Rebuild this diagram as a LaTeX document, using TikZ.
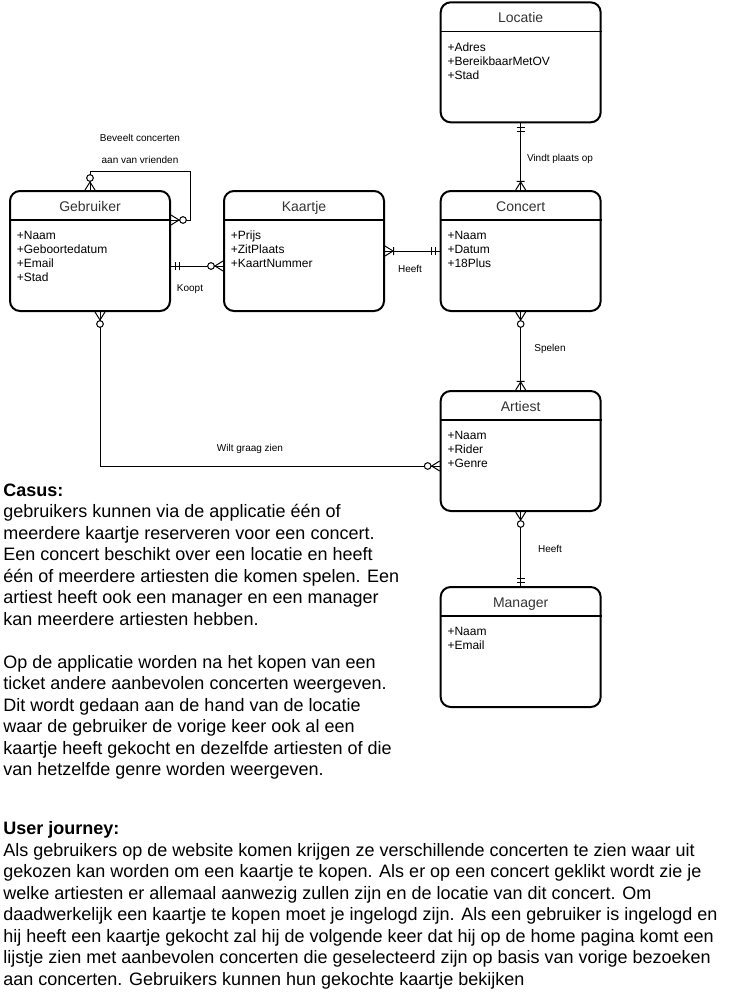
\documentclass[tikz,border=0pt]{standalone}
\usepackage{fontspec}
\setmainfont{Liberation Sans}
\usetikzlibrary{positioning}

% crow's foot ends
\pgfdeclarearrow{
  name = ZeroMany,
  setup code = {
    \pgfarrowssettipend{0pt}
    \pgfarrowssetlineend{0pt}
    \pgfarrowssetbackend{-12pt}
    \pgfarrowssetvisualbackend{-12pt}
    \pgfarrowshullpoint{0pt}{3.75pt}
    \pgfarrowshullpoint{0pt}{-3.75pt}
    \pgfarrowshullpoint{-12pt}{0pt}
  },
  drawing code = {
    \pgfpathmoveto{\pgfpoint{0pt}{3.75pt}}
    \pgfpathlineto{\pgfpoint{-6pt}{0pt}}
    \pgfpathlineto{\pgfpoint{0pt}{-3.75pt}}
    \pgfusepathqstroke
    \pgfsetfillcolor{white}
    \pgfpathcircle{\pgfpoint{-9pt}{0pt}}{2.5pt}
    \pgfusepathqfillstroke
  }
}
\pgfdeclarearrow{
  name = OneMany,
  setup code = {
    \pgfarrowssettipend{0pt}
    \pgfarrowssetlineend{0pt}
    \pgfarrowssetbackend{-7pt}
    \pgfarrowssetvisualbackend{-7pt}
    \pgfarrowshullpoint{0pt}{3.75pt}
    \pgfarrowshullpoint{0pt}{-3.75pt}
    \pgfarrowshullpoint{-7pt}{0pt}
  },
  drawing code = {
    \pgfpathmoveto{\pgfpoint{0pt}{3.75pt}}
    \pgfpathlineto{\pgfpoint{-6pt}{0pt}}
    \pgfpathlineto{\pgfpoint{0pt}{-3.75pt}}
    \pgfpathmoveto{\pgfpoint{-6.5pt}{3pt}}
    \pgfpathlineto{\pgfpoint{-6.5pt}{-3pt}}
    \pgfusepathqstroke
  }
}
\pgfdeclarearrow{
  name = MandOne,
  setup code = {
    \pgfarrowssettipend{0pt}
    \pgfarrowssetlineend{0pt}
    \pgfarrowssetbackend{-7pt}
    \pgfarrowssetvisualbackend{-7pt}
    \pgfarrowshullpoint{0pt}{3pt}
    \pgfarrowshullpoint{0pt}{-3pt}
    \pgfarrowshullpoint{-7pt}{0pt}
  },
  drawing code = {
    \pgfpathmoveto{\pgfpoint{-3pt}{3pt}}
    \pgfpathlineto{\pgfpoint{-3pt}{-3pt}}
    \pgfpathmoveto{\pgfpoint{-6pt}{3pt}}
    \pgfpathlineto{\pgfpoint{-6pt}{-3pt}}
    \pgfusepathqstroke
  }
}

\definecolor{titlegray}{HTML}{333333}

\begin{document}
\begin{tikzpicture}[x=0.75pt,y=-0.75pt, semithick,
    entity/.style={draw, line width=1.5pt, rounded corners=7.5pt,
      minimum width=120pt, minimum height=90pt},
    headline/.style={line width=1.2pt},
    title/.style={text=titlegray, font=\fontsize{10.5}{12}\selectfont, inner sep=0pt,
      text height=7.6pt, text depth=0pt},
    attr/.style={anchor=north west, align=left, inner sep=0pt,
      font=\fontsize{9}{10.5}\selectfont},
    conn/.style={line width=0.75pt},
    lbl/.style={font=\fontsize{7.5}{9}\selectfont, inner sep=0pt},
    body/.style={anchor=north west, align=left, inner sep=0pt,
      font=\fontsize{13.5}{16.1}\selectfont}]
  \useasboundingbox (0,0) rectangle (731,1002);

  \node[entity] (geb) at (90,251) {};
  \node[entity, right=39pt of geb] (kaa) {};
  \node[entity, right=41pt of kaa] (con) {};
  \node[entity, above=50pt of con] (loc) {};
  \node[entity, below=58.5pt of con] (art) {};
  \node[entity, below=55.5pt of art] (man) {};

  \foreach \e/\t in {loc/Locatie, geb/Gebruiker, kaa/Kaartje, con/Concert, art/Artiest, man/Manager}{
    \draw[headline] ([yshift=-22.5pt]\e.north west) -- ([yshift=-22.5pt]\e.north east);
    \node[title] (\e-t) at ([yshift=-12pt]\e.north) {\t};
  }

  \node[attr] (loc-a) at ([xshift=5.6pt,yshift=-30.5pt]loc.north west) {+Adres\\+BereikbaarMetOV\\+Stad};
  \node[attr] (geb-a) at ([xshift=5.6pt,yshift=-30.5pt]geb.north west) {+Naam\\+Geboortedatum\\+Email\\+Stad};
  \node[attr] (kaa-a) at ([xshift=5.6pt,yshift=-30.5pt]kaa.north west) {+Prijs\\+ZitPlaats\\+KaartNummer};
  \node[attr] (con-a) at ([xshift=5.6pt,yshift=-30.5pt]con.north west) {+Naam\\+Datum\\+18Plus};
  \node[attr] (art-a) at ([xshift=5.6pt,yshift=-30.5pt]art.north west) {+Naam\\+Rider\\+Genre};
  \node[attr] (man-a) at ([xshift=5.6pt,yshift=-30.5pt]man.north west) {+Naam\\+Email};

  % relations
  \coordinate (lp) at (190,171);
  \draw[conn, ZeroMany-ZeroMany] (geb.north) |- (lp) |- ([yshift=-22.5pt]geb.north east);
  \draw[conn, MandOne-ZeroMany] ([yshift=-11.25pt]geb.east) -- ([yshift=-11.25pt]kaa.west);
  \draw[conn, OneMany-MandOne] (kaa.east) -- (con.west);
  \draw[conn, MandOne-OneMany] (loc.south) -- (con.north);
  \draw[conn, ZeroMany-OneMany] (con.south) -- (art.north);
  \draw[conn, ZeroMany-MandOne] (art.south) -- (man.north);
  \draw[conn, ZeroMany-ZeroMany] ([xshift=7.5pt]geb.south) |- ([yshift=-11.25pt]art.west);

  \node[lbl, align=center, font=\fontsize{7.5}{16.5}\selectfont] (l-bev) at (140,149) {Beveelt concerten\\aan van vrienden};
  \node[lbl] (l-koo) at (190,289) {Koopt};
  \node[lbl] (l-hee) at (410,269) {Heeft};
  \node[lbl] (l-vin) at (560,159) {Vindt plaats op};
  \node[lbl] (l-spe) at (550,349) {Spelen};
  \node[lbl] (l-hem) at (550,549) {Heeft};
  \node[lbl] (l-wil) at (250,449) {Wilt graag zien};

  \node[body] (casus) at (3,483.5) {\textbf{Casus:}\\
    gebruikers kunnen via de applicatie één of\\
    meerdere kaartje reserveren voor een concert.\\
    Een concert beschikt over een locatie en heeft\\
    één of meerdere artiesten die komen spelen. Een\\
    artiest heeft ook een manager en een manager\\
    kan meerdere artiesten hebben.\\[16.1pt]
    Op de applicatie worden na het kopen van een\\
    ticket andere aanbevolen concerten weergeven.\\
    Dit wordt gedaan aan de hand van de locatie\\
    waar de gebruiker de vorige keer ook al een\\
    kaartje heeft gekocht en dezelfde artiesten of die\\
    van hetzelfde genre worden weergeven.};

  \node[body] (journey) at (3,821.5) {\textbf{User journey:}\\
    Als gebruikers op de website komen krijgen ze verschillende concerten te zien waar uit\\
    gekozen kan worden om een kaartje te kopen. Als er op een concert geklikt wordt zie je\\
    welke artiesten er allemaal aanwezig zullen zijn en de locatie van dit concert. Om\\
    daadwerkelijk een kaartje te kopen moet je ingelogd zijn. Als een gebruiker is ingelogd en\\
    hij heeft een kaartje gekocht zal hij de volgende keer dat hij op de home pagina komt een\\
    lijstje zien met aanbevolen concerten die geselecteerd zijn op basis van vorige bezoeken\\
    aan concerten. Gebruikers kunnen hun gekochte kaartje bekijken};
\end{tikzpicture}
\end{document}
